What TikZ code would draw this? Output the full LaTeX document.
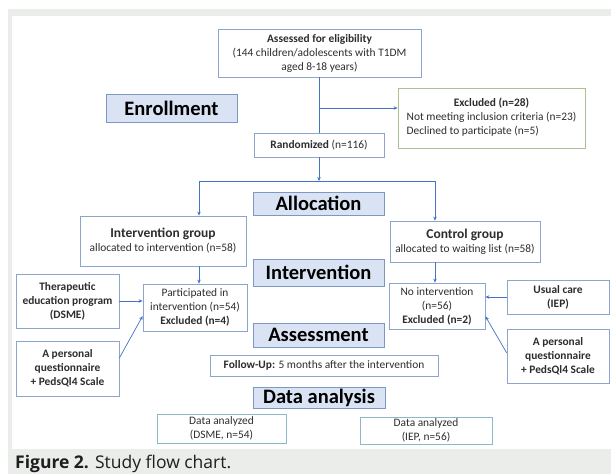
\documentclass[tikz,border=0pt]{standalone}
\usepackage{fontspec}
\setmainfont{Carlito}
\newfontfamily\capfont{Open Sans}
\usetikzlibrary{arrows.meta,calc}
\definecolor{bgrey}{RGB}{235,237,235}
\definecolor{boxline}{RGB}{140,165,205}
\definecolor{lblfill}{RGB}{218,227,243}
\definecolor{lblline}{RGB}{125,152,196}
\definecolor{exline}{RGB}{170,192,145}
\definecolor{dline}{RGB}{140,185,200}
\definecolor{arr}{RGB}{68,114,196}
\definecolor{txt}{RGB}{45,45,45}
\definecolor{capcol}{RGB}{30,30,30}
\newcommand\bxnode[7]{\node[#6, minimum width={#4-#2}, minimum height={#5-#3}] (#1) at ({(#2+#4)/2},{(#3+#5)/2}) {#7};}
\begin{document}
\begin{tikzpicture}[x=1pt,y=-1pt,
  bx/.style={draw=boxline, line width=0.8pt, inner sep=0pt, align=center, text=txt, font=\fontsize{11.4}{14}\selectfont},
  lbl/.style={draw=lblline, fill=lblfill, line width=0.8pt, inner sep=0pt, text=black, font=\bfseries\fontsize{20.5}{24}\selectfont},
  conn/.style={draw=arr, line width=0.7pt},
  arw/.style={conn, -{Stealth[length=4pt,width=3.5pt]}},
]
\useasboundingbox (0,0) rectangle (611,474);
\fill[white] (0,0) rectangle (611,474);
\fill[bgrey] (8,9) rectangle (611,474);
\fill[white] (12,16) rectangle (611,449);

% top
\bxnode{assess}{218}{29}{421}{77}{bx}{\textbf{Assessed for eligibility}\\(144 children/adolescents with T1DM\\aged 8-18 years)}
\bxnode{enroll}{106}{94}{237}{122}{lbl}{Enrollment}
\bxnode{excl}{398}{88}{585}{148}{bx,draw=exline}{\begin{tabular}{@{}l@{}}\multicolumn{1}{@{}c@{}}{\textbf{Excluded (n=28)}}\\Not meeting inclusion criteria (n=23)\\Declined to participate (n=5)\end{tabular}}
\bxnode{rand}{254}{133}{384}{157}{bx}{\textbf{Randomized} (n=116)}

% allocation
\bxnode{alloc}{253}{192}{384}{215}{lbl}{Allocation}
\bxnode{intg}{80}{216}{246}{266}{bx}{{\bfseries\fontsize{13.5}{17}\selectfont Intervention group}\\allocated to intervention (n=58)}
\bxnode{ctrl}{390}{221}{540}{262}{bx}{{\bfseries\fontsize{13.5}{17}\selectfont Control group}\\allocated to waiting list (n=58)}

% intervention
\bxnode{interv}{253}{259}{384}{286}{lbl}{Intervention}
\bxnode{part}{143}{284}{247}{331}{bx}{Participated in\\intervention (n=54)\\\textbf{Excluded (n=4)}}
\bxnode{ther}{16}{274}{119}{328}{bx}{\textbf{Therapeutic}\\\textbf{education program}\\\textbf{(DSME)}}
\bxnode{qa}{16}{341}{119}{396}{bx}{\textbf{A personal}\\\textbf{questionnaire}\\\textbf{+ PedsQl4 Scale}}
\bxnode{noint}{389}{283}{485}{329}{bx}{No intervention\\(n=56)\\\textbf{Excluded (n=2)}}
\bxnode{usual}{507}{280}{609}{314}{bx}{\textbf{Usual care}\\\textbf{(IEP)}}
\bxnode{qb}{507}{329}{609}{383}{bx}{\textbf{A personal}\\\textbf{questionnaire}\\\textbf{+ PedsQl4 Scale}}

% assessment
\bxnode{assm}{253}{323}{384}{347}{lbl}{Assessment}
\bxnode{follow}{210}{355}{438}{376}{bx}{\textbf{Follow-Up:} 5 months after the intervention}

% data analysis
\bxnode{data}{253}{387}{385}{408}{lbl}{Data analysis}
\bxnode{da}{157}{414}{286}{443}{bx,draw=dline}{Data analyzed\\(DSME, n=54)}
\bxnode{db}{360}{417}{492}{444}{bx,draw=dline}{Data analyzed\\(IEP, n=56)}

% connectors
\coordinate (ej) at (319.5,108);
\coordinate (split) at (319,181);
\coordinate (sl) at (199,181);
\coordinate (sr) at (435,181);
\draw[conn] (assess.south) -- (assess.south |- rand.north);
\draw[arw] (ej) -- (ej -| excl.west);
\draw[arw] (rand.south) -- (split);
\draw[conn] (sl) -- (sr);
\draw[arw] (sl) -- (sl |- intg.north);
\draw[arw] (sr) -- (sr |- ctrl.north);
\draw[arw] (sl |- intg.south) -- (sl |- part.north);
\draw[arw] (sr |- ctrl.south) -- (sr |- noint.north);
\draw[arw] (ther.east) -- (ther.east -| part.west);
\draw[arw] ($(qa.north east)!0.31!(qa.south east)$) -- ($(part.north west)!0.68!(part.south west)$);
\draw[arw] (usual.west) -- (usual.west -| noint.east);
\draw[arw] ($(qb.north west)!0.44!(qb.south west)$) -- ($(noint.north east)!0.72!(noint.south east)$);

% caption
\node[anchor=base west, inner sep=0pt, text=capcol, font=\capfont\fontsize{17.5}{20}\selectfont] (cap) at (15,468) {\textbf{Figure 2.} Study flow chart.};
\end{tikzpicture}
\end{document}
